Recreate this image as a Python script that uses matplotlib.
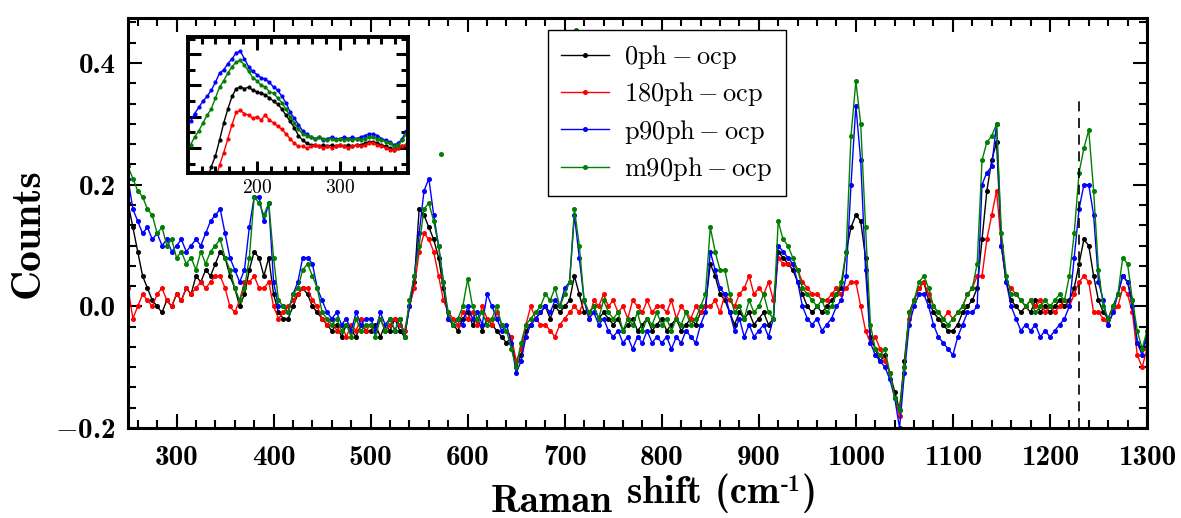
import numpy as np
import matplotlib
matplotlib.use('Agg')
import matplotlib.pyplot as plt
from matplotlib.ticker import MultipleLocator, FuncFormatter

plt.rcParams['mathtext.fontset'] = 'cm'
plt.rcParams['font.family'] = 'cmb10'

# Raman shift grid (cm^-1)
shift = np.arange(250, 1301, 5)

ph0 = [
    0.17, 0.13, 0.09, 0.05, 0.03, 0.01, 0.00, -0.01, 0.01, 0.00,
    0.02, 0.01, 0.03, 0.02, 0.05, 0.04, 0.06, 0.05, 0.07, 0.09,
    0.08, 0.05, 0.03, 0.00, 0.02, 0.06, 0.09, 0.08, 0.05, 0.08,
    0.02, -0.01, -0.02, -0.02, 0.00, 0.02, 0.03, 0.02, 0.00, -0.01,
    -0.02, -0.03, -0.04, -0.03, -0.05, -0.03, -0.04, -0.05, -0.03, -0.04,
    -0.04, -0.03, -0.05, -0.03, -0.04, -0.02, -0.04, -0.05, 0.00, 0.04,
    0.16, 0.15, 0.13, 0.11, 0.08, 0.03, -0.02, -0.03, -0.04, -0.02,
    -0.01, -0.03, -0.02, -0.04, -0.02, -0.03, -0.04, -0.05, -0.06, -0.05,
    -0.10, -0.08, -0.04, -0.03, -0.02, -0.01, 0.00, -0.02, 0.00, -0.01,
    0.00, 0.01, 0.05, 0.02, -0.01, -0.01, 0.00, -0.02, -0.01, -0.02,
    -0.03, -0.02, -0.04, -0.03, -0.02, -0.04, -0.03, -0.02, -0.04, -0.03,
    -0.02, -0.04, -0.03, -0.02, -0.04, -0.03, -0.02, -0.03, -0.01, 0.00,
    0.07, 0.05, 0.02, 0.01, -0.01, -0.03, -0.01, -0.02, -0.01, -0.03,
    -0.02, -0.01, -0.03, -0.02, 0.09, 0.08, 0.07, 0.06, 0.04, 0.02,
    0.00, -0.01, 0.00, -0.01, 0.00, 0.01, 0.02, 0.03, 0.09, 0.13,
    0.15, 0.14, 0.08, -0.05, -0.07, -0.09, -0.08, -0.11, -0.14, -0.17,
    -0.09, -0.01, 0.01, 0.03, 0.04, 0.01, -0.01, -0.02, -0.03, -0.04,
    -0.04, -0.03, -0.01, 0.00, 0.01, 0.03, 0.11, 0.19, 0.24, 0.27,
    0.10, 0.04, 0.01, 0.00, -0.01, 0.00, -0.01, 0.01, -0.01, 0.00,
    -0.01, 0.00, 0.01, 0.00, 0.01, 0.03, 0.07, 0.11, 0.10, 0.05,
    0.01, -0.01, -0.02, 0.00, 0.02, 0.05, 0.04, 0.01, -0.06, -0.07,
    -0.05]

ph180 = [
    0.03, -0.02, 0.00, 0.02, 0.01, 0.00, 0.02, 0.03, 0.01, 0.00,
    0.02, 0.01, 0.03, 0.02, 0.03, 0.04, 0.03, 0.04, 0.05, 0.05,
    0.03, 0.00, -0.01, 0.01, 0.04, 0.04, 0.05, 0.03, 0.03, 0.04,
    0.00, -0.02, -0.01, 0.00, 0.01, 0.02, 0.03, 0.03, 0.01, 0.00,
    -0.02, -0.03, -0.02, -0.04, -0.03, -0.05, -0.03, -0.04, -0.02, -0.04,
    -0.03, -0.04, -0.02, -0.04, -0.03, -0.02, -0.03, -0.04, 0.00, 0.03,
    0.09, 0.12, 0.11, 0.09, 0.05, 0.01, -0.01, -0.02, -0.03, -0.01,
    -0.02, -0.01, -0.03, 0.00, -0.02, -0.03, -0.01, -0.03, -0.04, -0.05,
    -0.09, -0.07, -0.03, 0.00, -0.02, -0.03, -0.03, -0.04, -0.05, -0.03,
    -0.02, -0.01, 0.00, -0.01, 0.01, -0.02, 0.01, 0.00, 0.02, 0.00,
    0.01, -0.01, 0.00, -0.02, 0.01, 0.00, -0.01, 0.01, -0.01, 0.00,
    0.00, -0.01, 0.01, -0.02, 0.00, -0.01, -0.02, 0.00, -0.01, 0.00,
    0.00, 0.01, -0.01, 0.02, 0.01, 0.00, 0.02, 0.03, 0.05, 0.02,
    0.03, 0.02, 0.04, 0.01, 0.08, 0.07, 0.07, 0.07, 0.06, 0.04,
    0.03, 0.02, 0.02, 0.01, 0.01, 0.02, 0.03, 0.02, 0.03, 0.04,
    0.04, 0.00, -0.04, -0.06, -0.05, -0.07, -0.09, -0.11, -0.15, -0.18,
    -0.10, -0.02, 0.01, 0.03, 0.04, 0.02, 0.00, -0.01, -0.02, -0.01,
    -0.02, -0.01, 0.00, 0.02, 0.03, 0.05, 0.05, 0.11, 0.15, 0.19,
    0.10, 0.04, 0.03, 0.02, 0.01, 0.00, 0.01, 0.00, 0.01, -0.01,
    0.00, -0.01, 0.00, 0.01, 0.00, 0.02, 0.04, 0.05, 0.04, -0.01,
    -0.01, -0.02, -0.03, -0.01, 0.00, 0.03, 0.02, -0.01, -0.08, -0.10,
    -0.07]

p90 = [
    0.21, 0.16, 0.14, 0.12, 0.13, 0.11, 0.12, 0.10, 0.11, 0.09,
    0.10, 0.11, 0.09, 0.10, 0.11, 0.10, 0.12, 0.14, 0.15, 0.16,
    0.12, 0.08, 0.06, 0.04, 0.06, 0.13, 0.18, 0.18, 0.14, 0.17,
    0.04, 0.00, 0.00, -0.01, 0.02, 0.04, 0.08, 0.08, 0.07, 0.03,
    0.01, -0.01, -0.02, -0.01, -0.03, -0.02, -0.04, -0.01, -0.03, -0.02,
    -0.02, -0.04, -0.01, -0.03, -0.02, -0.04, -0.02, -0.05, 0.00, 0.05,
    0.12, 0.19, 0.21, 0.15, 0.10, 0.04, -0.02, -0.03, -0.02, -0.03,
    0.00, -0.02, -0.01, -0.03, 0.02, 0.00, -0.02, -0.04, -0.03, -0.06,
    -0.11, -0.09, -0.05, -0.03, -0.02, -0.01, 0.00, -0.01, 0.01, 0.00,
    0.03, 0.04, 0.15, 0.08, 0.01, -0.02, -0.01, -0.03, -0.02, -0.04,
    -0.05, -0.04, -0.06, -0.05, -0.07, -0.05, -0.06, -0.04, -0.06, -0.05,
    -0.06, -0.05, -0.07, -0.05, -0.06, -0.04, -0.05, -0.06, -0.03, -0.01,
    0.09, 0.06, 0.03, 0.02, -0.01, -0.04, -0.02, -0.05, -0.03, -0.05,
    -0.04, -0.03, -0.05, -0.02, 0.10, 0.09, 0.08, 0.07, 0.04, 0.00,
    -0.02, -0.03, -0.02, -0.04, -0.03, -0.02, 0.00, 0.01, 0.05, 0.20,
    0.33, 0.24, 0.06, -0.06, -0.08, -0.09, -0.10, -0.12, -0.15, -0.20,
    -0.11, -0.03, 0.00, 0.02, 0.02, 0.00, -0.03, -0.05, -0.06, -0.07,
    -0.08, -0.05, -0.03, -0.01, -0.01, 0.00, 0.20, 0.22, 0.23, 0.30,
    0.10, 0.04, 0.00, -0.02, -0.04, -0.03, -0.04, -0.03, -0.05, -0.04,
    -0.05, -0.04, -0.03, -0.02, 0.00, 0.08, 0.16, 0.20, 0.20, 0.15,
    0.04, 0.01, -0.03, -0.01, 0.02, 0.05, 0.04, 0.00, -0.06, -0.08,
    -0.05]

m90 = [
    0.23, 0.21, 0.19, 0.18, 0.16, 0.15, 0.12, 0.13, 0.10, 0.11,
    0.08, 0.09, 0.07, 0.08, 0.06, 0.09, 0.07, 0.09, 0.10, 0.11,
    0.08, 0.06, 0.03, 0.01, 0.03, 0.08, 0.18, 0.17, 0.15, 0.17,
    0.08, 0.01, 0.00, -0.01, 0.02, 0.03, 0.06, 0.07, 0.05, 0.03,
    -0.01, -0.02, -0.03, -0.02, -0.04, -0.03, -0.05, -0.02, -0.04, -0.03,
    -0.03, -0.05, -0.02, -0.04, -0.02, -0.04, -0.02, -0.05, 0.01, 0.05,
    0.10, 0.16, 0.17, 0.14, 0.10, 0.04, -0.01, -0.03, -0.02, 0.00,
    0.045, 0.00, -0.02, -0.01, -0.03, -0.02, 0.00, -0.03, -0.04, -0.07,
    -0.10, -0.06, -0.03, -0.02, -0.01, 0.00, 0.02, 0.01, 0.03, 0.00,
    0.02, 0.04, 0.16, 0.10, 0.01, -0.01, 0.00, -0.02, 0.01, -0.01,
    -0.02, -0.01, -0.04, -0.02, -0.03, -0.01, -0.04, -0.02, -0.03, -0.01,
    -0.03, -0.02, -0.04, -0.02, -0.03, -0.01, -0.03, -0.02, 0.00, 0.02,
    0.13, 0.09, 0.06, 0.06, 0.02, -0.01, 0.00, -0.02, 0.01, -0.01,
    0.00, 0.02, -0.01, -0.02, 0.14, 0.11, 0.10, 0.08, 0.06, 0.03,
    0.02, 0.01, 0.00, 0.01, -0.01, 0.00, 0.02, 0.04, 0.09, 0.28,
    0.37, 0.30, 0.13, -0.03, -0.07, -0.08, -0.07, -0.11, -0.15, -0.17,
    -0.10, -0.01, 0.01, 0.04, 0.05, 0.03, 0.00, -0.01, -0.02, -0.03,
    -0.02, -0.01, 0.00, 0.02, 0.03, 0.07, 0.24, 0.27, 0.28, 0.30,
    0.12, 0.05, 0.02, 0.02, 0.01, 0.00, 0.01, -0.01, 0.00, 0.01,
    0.00, 0.01, 0.02, 0.01, 0.05, 0.12, 0.22, 0.26, 0.29, 0.19,
    0.06, 0.00, -0.02, 0.00, 0.02, 0.08, 0.07, 0.01, -0.04, -0.07,
    -0.04]

# isolated m90 points not joined by the line
m90_stray_x = [573, 712, 918]
m90_stray_y = [0.25, 0.455, 0.196]

# inset: low-wavenumber region
inset_shift = np.arange(120, 381, 5)
inset_ph0 = [-0.30, -0.30, -0.30, -0.25, -0.20, -0.12, -0.05, 0.05, 0.16, 0.25,
             0.33, 0.38, 0.39, 0.38, 0.39, 0.37, 0.36, 0.35, 0.34, 0.32,
             0.30, 0.28, 0.25, 0.21, 0.17, 0.13, 0.08, 0.05, 0.03, 0.02,
             0.02, 0.01, 0.02, 0.01, 0.02, 0.01, 0.02, 0.01, 0.02, 0.01,
             0.02, 0.02, 0.03, 0.04, 0.04, 0.03, 0.02, 0.01, 0.00, -0.01,
             0.00, 0.01, 0.02]
inset_ph180 = [-0.40, -0.40, -0.40, -0.35, -0.30, -0.25, -0.20, -0.11, -0.03, 0.06,
               0.15, 0.23, 0.24, 0.22, 0.21, 0.19, 0.20, 0.18, 0.21, 0.18,
               0.16, 0.14, 0.12, 0.09, 0.06, 0.03, 0.01, 0.01, 0.00, 0.01,
               0.02, 0.01, 0.00, 0.01, 0.00, 0.01, 0.02, 0.01, 0.00, 0.01,
               0.02, 0.01, 0.02, 0.03, 0.03, 0.02, 0.01, 0.00, -0.01, -0.01,
               0.00, 0.01, 0.02]
inset_p90 = [0.17, 0.22, 0.26, 0.30, 0.33, 0.37, 0.42, 0.48, 0.50, 0.54,
             0.57, 0.61, 0.62, 0.57, 0.52, 0.49, 0.47, 0.45, 0.44, 0.42,
             0.39, 0.37, 0.33, 0.29, 0.23, 0.19, 0.15, 0.11, 0.09, 0.07,
             0.06, 0.07, 0.05, 0.06, 0.07, 0.06, 0.06, 0.07, 0.06, 0.07,
             0.06, 0.07, 0.08, 0.09, 0.09, 0.08, 0.06, 0.05, 0.04, 0.02,
             0.03, 0.06, 0.11]
inset_m90 = [0.02, 0.07, 0.11, 0.16, 0.21, 0.25, 0.32, 0.39, 0.43, 0.48,
             0.52, 0.55, 0.56, 0.53, 0.49, 0.45, 0.43, 0.40, 0.39, 0.36,
             0.35, 0.32, 0.29, 0.25, 0.20, 0.16, 0.12, 0.09, 0.08, 0.07,
             0.06, 0.07, 0.06, 0.05, 0.06, 0.05, 0.06, 0.05, 0.06, 0.05,
             0.06, 0.05, 0.06, 0.07, 0.07, 0.06, 0.05, 0.04, 0.03, 0.01,
             0.02, 0.05, 0.09]

labels = ['0ph-ocp', '180ph-ocp', 'p90ph-ocp', 'm90ph-ocp']
colors = ['black', 'red', 'blue', 'green']
ref_line_x = 1230
ref_line_top = 0.34


def ylab(v, p):
    s = '%.1f' % abs(v)
    return r'$-$' + s if v < -1e-9 else s


fig = plt.figure(figsize=(11.81, 5.18), dpi=100)
ax = fig.add_axes([0.1084, 0.1737, 0.8628, 0.7915])

series = [ph0, ph180, p90, m90]
for ys, c, lab in zip(series, colors, labels):
    ax.plot(shift, ys, '-o', color=c, lw=1.0, ms=2.6, label=r'$\mathrm{%s}$' % lab)
ax.plot(m90_stray_x, m90_stray_y, 'o', color='green', ms=2.6, ls='none')
ax.plot([ref_line_x, ref_line_x], [-0.2, ref_line_top], color='black', lw=1.2, dashes=(6, 4))

ax.set_xlim(250, 1300)
ax.set_ylim(-0.2, 0.474)
ax.xaxis.set_major_locator(MultipleLocator(100))
ax.xaxis.set_minor_locator(MultipleLocator(20))
ax.yaxis.set_major_locator(MultipleLocator(0.2))
ax.yaxis.set_minor_locator(MultipleLocator(0.2 / 6))
ax.xaxis.set_major_formatter(FuncFormatter(lambda v, p: '%d' % v))
ax.yaxis.set_major_formatter(FuncFormatter(ylab))
ax.tick_params(which='both', direction='in', top=True, right=True, labelsize=21, width=1.5)
ax.tick_params(axis='x', which='major', length=10, pad=12)
ax.tick_params(axis='y', which='major', length=10, pad=9)
ax.tick_params(which='minor', length=6)
for s in ax.spines.values():
    s.set_linewidth(2.2)

leg = ax.legend(loc='upper left', bbox_to_anchor=(0.412, 0.971), borderaxespad=0,
                fancybox=False, edgecolor='black', fontsize=19, handlelength=1.8,
                labelspacing=0.35, borderpad=0.5, handletextpad=0.6, framealpha=1)
leg.get_frame().set_linewidth(1.0)

fig.text(0.024, 0.55, 'Counts', fontsize=30, rotation=90, ha='center', va='center')
fig.text(0.5185, 0.012, 'Raman', fontsize=28, ha='right', va='baseline')
t1 = fig.text(0.531, 0.029, 'shift (cm', fontsize=28, ha='left', va='baseline')
fig.canvas.draw()
bb = t1.get_window_extent()
sup = fig.text(bb.x1 / fig.bbox.width + 0.001, 0.029 + 12 / 518, '-1', fontsize=17,
               ha='left', va='baseline')
fig.canvas.draw()
bb2 = sup.get_window_extent()
fig.text(bb2.x1 / fig.bbox.width + 0.001, 0.029, ')', fontsize=28, ha='left', va='baseline')

# inset
axi = fig.add_axes([0.1592, 0.666, 0.1863, 0.2625])
for ys, c in zip([inset_ph0, inset_ph180, inset_p90, inset_m90], colors):
    axi.plot(inset_shift, ys, '-o', color=c, lw=1.0, ms=2.0)
axi.set_xlim(117, 382)
axi.set_ylim(-0.16, 0.71)
axi.xaxis.set_major_locator(MultipleLocator(100))
axi.xaxis.set_minor_locator(MultipleLocator(100 / 6))
axi.yaxis.set_major_locator(MultipleLocator(0.2))
axi.yaxis.set_minor_locator(MultipleLocator(0.1))
axi.xaxis.set_major_formatter(FuncFormatter(lambda v, p: r'$\mathrm{%d}$' % v))
axi.tick_params(which='both', direction='in', top=True, right=True, labelleft=False,
                labelsize=14, width=2.2)
axi.tick_params(which='major', length=9, pad=4)
axi.tick_params(which='minor', length=5)
for s in axi.spines.values():
    s.set_linewidth(2.8)

fig.savefig('out.png', dpi=100)
